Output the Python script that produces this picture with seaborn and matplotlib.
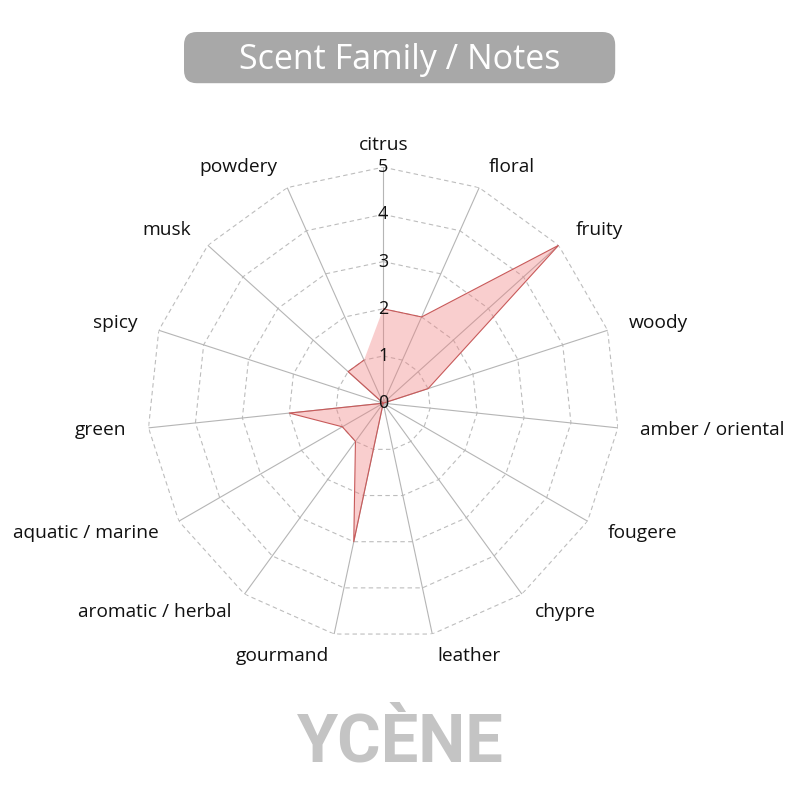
import numpy as np
import pandas as pd
import seaborn as sns
import matplotlib.pyplot as plt
from matplotlib.patches import FancyBboxPatch

categorias = ["citrus", "floral", "fruity", "woody", "amber / oriental", "fougere",
              "chypre", "leather", "gourmand", "aromatic / herbal", "aquatic / marine",
              "green", "spicy", "musk", "powdery"]
valores = [2, 2, 5, 1, 0, 0, 0, 0, 3, 1, 1, 2, 0, 1, 1]
niveis = [0, 1, 2, 3, 4, 5]

sns.set_theme(style="white")
plt.rcParams['font.family'] = ['Open Sans', 'DejaVu Sans']

n = len(categorias)
angulos = np.linspace(0, 2 * np.pi, n, endpoint=False)
df = pd.DataFrame({"ang": np.append(angulos, angulos[0]), "val": valores + valores[:1]})

fig = plt.figure(figsize=(8, 8), dpi=100)
ax = fig.add_axes([0.184, 0.201, 0.59, 0.59], projection="polar")
ax.set_theta_zero_location("N")
ax.set_theta_direction(-1)
ax.set_ylim(0, 5)
ax.grid(False)
ax.spines["polar"].set_visible(False)
ax.set_xticks([])
ax.set_yticks([])

# grade poligonal tracejada
for r in niveis[1:]:
    ax.plot(np.append(angulos, angulos[0]), [r] * (n + 1), color="#bdbdbd",
            lw=0.8, ls=(0, (4, 3)), zorder=1)
for a in angulos:
    ax.plot([a, a], [0, 5], color="#b5b5b5", lw=0.8, zorder=1)

ax.fill(df["ang"], df["val"], color="#f08080", alpha=0.38, zorder=2, lw=0)
sns.lineplot(data=df, x="ang", y="val", sort=False, ax=ax, color="#c85a5a",
             lw=0.8, zorder=3)
ax.set_xlabel("")
ax.set_ylabel("")

for r in niveis:
    ax.text(0, r, str(r), ha="center", va="center", fontsize=13, color="#111111", zorder=4)

for a, c in zip(angulos, categorias):
    s = np.sin(a)
    ha = "left" if s > 0.01 else ("right" if s < -0.01 else "center")
    ax.text(a, 5.48, c, ha=ha, va="center", fontsize=13.8, color="#111111")

# titulo em caixa arredondada
caixa = FancyBboxPatch((0.23, 0.896), 0.539, 0.064,
                       boxstyle="round,pad=0,rounding_size=0.016",
                       transform=fig.transFigure, facecolor="#a8a8a8",
                       edgecolor="none")
fig.patches.append(caixa)
fig.text(0.5, 0.925, "Scent Family / Notes", ha="center", va="center",
         fontsize=24.5, color="white")

fig.text(0.5, 0.071, "YCÈNE", ha="center", va="center", fontsize=48,
         fontweight="bold", fontstretch="condensed", color="#c4c4c4",
         family=["Roboto", "DejaVu Sans"])

fig.savefig("out.png", dpi=100, facecolor="white")
